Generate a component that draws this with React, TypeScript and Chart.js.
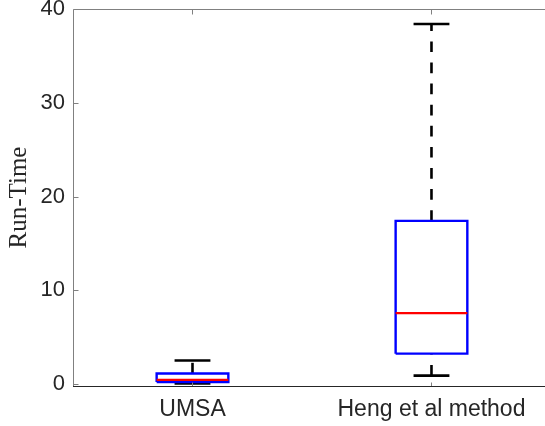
import React, { useEffect, useRef } from "react";
import { Chart, registerables } from "chart.js";

Chart.register(...registerables);

// ---- data ----
const categories = ["UMSA", "Heng et al method"];
const whiskerLow = [0.05, 0.89];
const quartile1 = [0.22, 3.24];
const medians = [0.45, 7.56];
const quartile3 = [1.12, 17.4];
const whiskerHigh = [2.5, 38.4];
const yTickValues = [0, 10, 20, 30, 40];

const BOX_HALF = 0.15;
const CAP_HALF = 0.075;

const framePlugin = {
  id: "matlabFrame",
  afterDatasetsDraw(chart: any) {
    const { ctx, chartArea: a, scales } = chart;
    const xs = scales.x;
    const ys = scales.y;
    const L = Math.round(a.left) + 0.5;
    const R = Math.round(a.right);
    const T = Math.round(a.top) + 0.5;
    const B = Math.round(a.bottom) + 0.5;
    ctx.save();
    ctx.lineWidth = 1;
    ctx.strokeStyle = "#808080";
    ctx.beginPath();
    ctx.moveTo(L, B);
    ctx.lineTo(L, T);
    ctx.lineTo(R, T);
    for (const v of yTickValues) {
      const py = Math.round(ys.getPixelForValue(v)) + 0.5;
      ctx.moveTo(L, py);
      ctx.lineTo(L + 5, py);
    }
    categories.forEach((_, i) => {
      const px = Math.round(xs.getPixelForValue(i + 1)) + 0.5;
      ctx.moveTo(px, B);
      ctx.lineTo(px, B - 4);
      ctx.moveTo(px, T);
      ctx.lineTo(px, T + 5);
    });
    ctx.stroke();
    ctx.strokeStyle = "#262626";
    ctx.beginPath();
    ctx.moveTo(L - 0.5, B);
    ctx.lineTo(R, B);
    ctx.stroke();
    ctx.restore();
  },
};

function lineDs(points: { x: number; y: number }[], color: string, width: number, dash: number[] = []) {
  return {
    data: points,
    showLine: true,
    borderColor: color,
    backgroundColor: color,
    borderWidth: width,
    borderDash: dash,
    borderCapStyle: "butt",
    borderJoinStyle: "miter",
    pointRadius: 0,
    pointHoverRadius: 0,
    tension: 0,
    fill: false,
  };
}

export default function App() {
  const ref = useRef<HTMLCanvasElement | null>(null);

  useEffect(() => {
    if (!ref.current) return;
    const medianSets: any[] = [];
    const boxSets: any[] = [];
    const capSets: any[] = [];
    const whiskerSets: any[] = [];
    categories.forEach((_, i) => {
      const c = i + 1;
      medianSets.push(
        lineDs([{ x: c - BOX_HALF, y: medians[i] }, { x: c + BOX_HALF, y: medians[i] }], "#ff0000", 2.2)
      );
      boxSets.push(
        lineDs(
          [
            { x: c - BOX_HALF, y: quartile1[i] },
            { x: c + BOX_HALF, y: quartile1[i] },
            { x: c + BOX_HALF, y: quartile3[i] },
            { x: c - BOX_HALF, y: quartile3[i] },
            { x: c - BOX_HALF, y: quartile1[i] },
          ],
          "#0000ff",
          2.4
        )
      );
      capSets.push(
        lineDs([{ x: c - CAP_HALF, y: whiskerHigh[i] }, { x: c + CAP_HALF, y: whiskerHigh[i] }], "#000000", 2.6)
      );
      capSets.push(
        lineDs([{ x: c - CAP_HALF, y: whiskerLow[i] }, { x: c + CAP_HALF, y: whiskerLow[i] }], "#000000", 2.6)
      );
      whiskerSets.push(
        lineDs([{ x: c, y: quartile3[i] }, { x: c, y: whiskerHigh[i] }], "#000000", 2.6, [10.7, 10.4])
      );
      whiskerSets.push(
        lineDs([{ x: c, y: whiskerLow[i] }, { x: c, y: quartile1[i] }], "#000000", 2.6, [10.7, 10.4])
      );
    });

    const chart = new Chart(ref.current, {
      type: "scatter",
      data: { datasets: [...medianSets, ...boxSets, ...capSets, ...whiskerSets] as any },
      options: {
        animation: false,
        responsive: false,
        devicePixelRatio: 1,
        layout: { padding: { top: 9, right: 0, left: 0, bottom: 0 } },
        plugins: { legend: { display: false }, tooltip: { enabled: false } },
        scales: {
          x: {
            type: "linear",
            min: 0.5,
            max: 2.475,
            grid: { display: false, drawTicks: false },
            border: { display: false },
            afterBuildTicks: (s: any) => {
              s.ticks = categories.map((_, i) => ({ value: i + 1 }));
            },
            afterFit: (s: any) => {
              s.height = 40;
              s.paddingLeft = 0;
              s.paddingRight = 0;
              s.paddingTop = 0;
              s.paddingBottom = 0;
            },
            ticks: {
              padding: 10,
              maxRotation: 0,
              autoSkip: false,
              color: "#262626",
              font: { family: "Liberation Sans", size: 23 },
              callback: (v: any) => categories[Math.round(Number(v)) - 1] ?? "",
            },
          },
          y: {
            type: "linear",
            min: -0.213,
            max: 40,
            grid: { display: false, drawTicks: false },
            border: { display: false },
            afterBuildTicks: (s: any) => {
              s.ticks = yTickValues.map((v) => ({ value: v }));
            },
            afterFit: (s: any) => {
              s.width = 73;
              s.paddingLeft = 0;
              s.paddingRight = 0;
              s.paddingTop = 0;
              s.paddingBottom = 0;
            },
            ticks: {
              padding: 8,
              color: "#262626",
              font: { family: "Liberation Sans", size: 22 },
              callback: (v: any) => String(v),
            },
            title: {
              display: true,
              text: "Run-Time",
              color: "#262626",
              font: { family: "Liberation Serif", size: 25, weight: "normal" },
              padding: { top: 4, bottom: 0 },
            },
          },
        },
      },
      plugins: [framePlugin],
    } as any);
    return () => chart.destroy();
  }, []);

  return (
    <div
      style={{
        position: "absolute",
        left: 0,
        top: 0,
        width: 545,
        height: 426,
        overflow: "hidden",
        background: "#ffffff",
      }}
    >
      <canvas ref={ref} width={545} height={426} style={{ display: "block", width: 545, height: 426 }} />
    </div>
  );
}
